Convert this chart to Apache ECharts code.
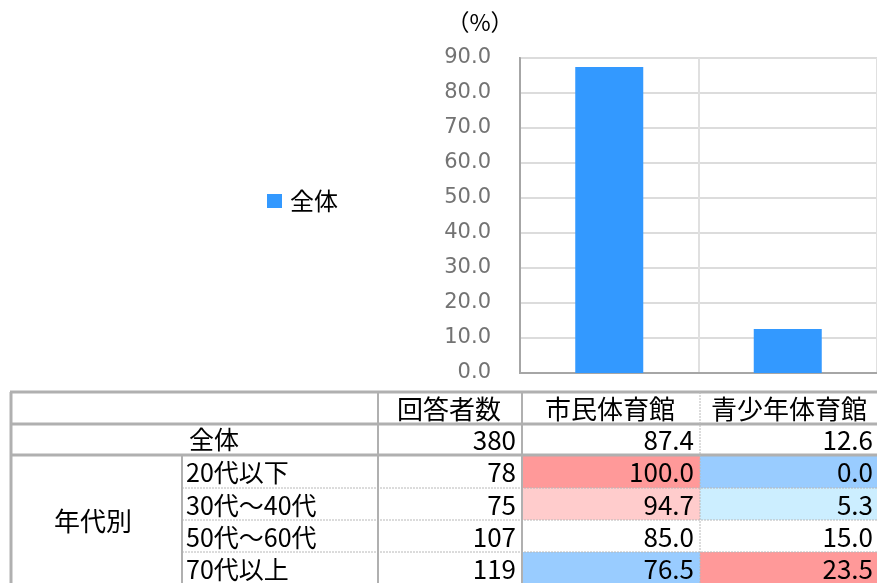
<!DOCTYPE html>
<html>
<head>
<meta charset="utf-8">
<script src="https://cdn.jsdelivr.net/npm/echarts@6/dist/echarts.min.js"></script>
<style>
html,body{margin:0;padding:0;background:#fff;}
#chart{width:877px;height:583px;}
</style>
</head>
<body>
<div id="chart"></div>
<script>
// ---- data ----
var categories = ['市民体育館', '青少年体育館'];
var seriesName = '全体';
var overallValues = [87.4, 12.6];
var yTicks = [0, 10, 20, 30, 40, 50, 60, 70, 80, 90];

var headerLabels = ['回答者数', '市民体育館', '青少年体育館'];
var groupLabel = '年代別';
var rowLabels = ['全体', '20代以下', '30代～40代', '50代～60代', '70代以上'];
var respondents = [380, 78, 75, 107, 119];
var civicValues = [87.4, 100.0, 94.7, 85.0, 76.5];
var youthValues = [12.6, 0.0, 5.3, 15.0, 23.5];

// ---- layout (table) ----
var colX = [10, 182, 378, 522, 700, 880];
var rowY = [392, 424, 455, 488, 520, 552, 584];
var CJK = '"Noto Sans CJK JP", "Noto Sans", sans-serif';
var lineColor = '#b0b0b0';

function cellColor(v, base) {
  var d = v - base;
  if (d >= 10) return '#ff9999';
  if (d >= 5) return '#ffcccc';
  if (d <= -10) return '#99ccff';
  if (d <= -5) return '#cceeff';
  return null;
}

var g = [];
function txt(s, x, y, align, size) {
  g.push({type: 'text', x: x, y: y, silent: true, z: 10,
    style: {text: s, fill: '#000', font: (size || 23) + 'px ' + CJK,
      align: align, verticalAlign: 'middle', textAlign: align, textVerticalAlign: 'middle'}});
}
function line(x1, y1, x2, y2, w, dashed) {
  g.push({type: 'line', silent: true, z: 8,
    shape: {x1: x1, y1: y1, x2: x2, y2: y2},
    style: {stroke: dashed ? '#b8b8b8' : lineColor, lineWidth: w, lineDash: dashed ? [2, 1] : null}});
}

// cell fills
var valueCols = [civicValues, youthValues];
for (var c = 0; c < valueCols.length; c++) {
  for (var r = 1; r < rowLabels.length; r++) {
    var col = cellColor(valueCols[c][r], valueCols[c][0]);
    if (col) {
      g.push({type: 'rect', silent: true, z: 5,
        shape: {x: colX[3 + c], y: rowY[r + 1], width: colX[4 + c] - colX[3 + c], height: rowY[r + 2] - rowY[r + 1]},
        style: {fill: col}});
    }
  }
}

// header texts
var headerCenters = [449, 610, 789];
for (var i = 0; i < headerLabels.length; i++) {
  txt(headerLabels[i], headerCenters[i], (rowY[0] + rowY[1]) / 2 + 1, 'center', 26);
}
// row labels
txt(rowLabels[0], 214, (rowY[1] + rowY[2]) / 2, 'center', 25);
txt(groupLabel, 93, (rowY[2] + rowY[6]) / 2 + 2, 'center', 26);
for (var r = 1; r < rowLabels.length; r++) {
  txt(rowLabels[r], 186, (rowY[r + 1] + rowY[r + 2]) / 2 + 1, 'left', 25);
}
// values
for (var r = 0; r < rowLabels.length; r++) {
  var yc = (rowY[r + 1] + rowY[r + 2]) / 2 + 1;
  txt(String(respondents[r]), 516, yc, 'right', 26);
  txt(civicValues[r].toFixed(1), 694, yc, 'right', 26);
  txt(youthValues[r].toFixed(1), 873, yc, 'right', 26);
}
// lines
line(10, rowY[0], 877, rowY[0], 3);
line(10, rowY[1], 877, rowY[1], 3);
line(10, rowY[2], 877, rowY[2], 3);
for (var r = 3; r <= 5; r++) line(colX[1], rowY[r], 877, rowY[r], 1, true);
line(colX[0] + 1, rowY[0], colX[0] + 1, 583, 3);
line(colX[1], rowY[2], colX[1], 583, 2);
line(colX[2], rowY[0], colX[2], 583, 2);
line(colX[3], rowY[0], colX[3], 583, 2);
line(colX[4], rowY[0], colX[4], 583, 1, true);
// unit
txt('（%）', 480, 22, 'center', 23);

var chart = echarts.init(document.getElementById('chart'), null, {renderer: 'canvas'});
chart.setOption({
  animation: false,
  backgroundColor: '#fff',
  legend: {
    data: [seriesName], left: 262, top: 184, orient: 'vertical',
    itemWidth: 15, itemHeight: 14, icon: 'rect',
    textStyle: {fontSize: 24, color: '#000', fontFamily: CJK, padding: [0, 0, 0, 3]}
  },
  grid: {left: 520, top: 58, width: 360, height: 315, show: true, borderColor: '#a6a6a6', borderWidth: 2, containLabel: false},
  xAxis: {
    type: 'category', data: categories,
    axisLabel: {show: false}, axisTick: {show: false},
    axisLine: {show: true, lineStyle: {color: '#a6a6a6', width: 2}},
    splitLine: {show: true, lineStyle: {color: '#e0e0e0', width: 2}}
  },
  yAxis: {
    type: 'value', min: yTicks[0], max: yTicks[yTicks.length - 1], interval: yTicks[1] - yTicks[0],
    axisLine: {show: true, lineStyle: {color: '#a6a6a6', width: 2}},
    axisTick: {show: false},
    axisLabel: {margin: 29, color: '#737373', fontSize: 21, fontFamily: 'DejaVu Sans',
      formatter: function (v) { return v.toFixed(1); }},
    splitLine: {show: true, lineStyle: {color: '#dcdcdc', width: 2}}
  },
  series: [{
    name: seriesName, type: 'bar', data: overallValues, barWidth: 68,
    itemStyle: {color: '#3399ff'}
  }],
  graphic: g
});
</script>
</body>
</html>
